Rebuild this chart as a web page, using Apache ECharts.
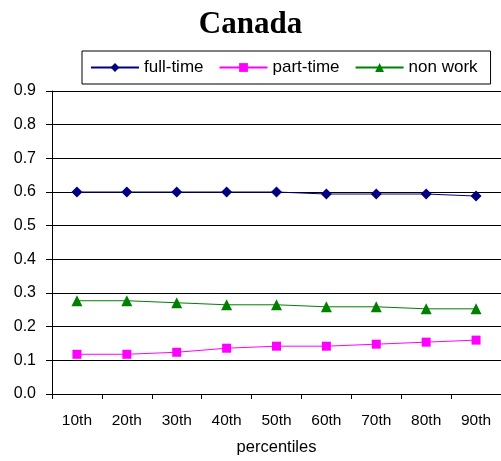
<!DOCTYPE html>
<html>
<head>
<meta charset="utf-8">
<script src="https://cdn.jsdelivr.net/npm/echarts@6/dist/echarts.min.js"></script>
<style>
  html, body { margin: 0; padding: 0; background: #fff; }
  #chart { width: 501px; height: 461px; }
</style>
</head>
<body>
<div id="chart"></div>
<script>
// 数据
var categories = ['10th', '20th', '30th', '40th', '50th', '60th', '70th', '80th', '90th'];
var fullTime = [0.600, 0.600, 0.600, 0.600, 0.600, 0.594, 0.594, 0.594, 0.588];
var partTime = [0.118, 0.118, 0.124, 0.136, 0.142, 0.142, 0.148, 0.154, 0.160];
var nonWork = [0.277, 0.277, 0.271, 0.265, 0.265, 0.259, 0.259, 0.253, 0.253];
var yTicks = [0, 0.1, 0.2, 0.3, 0.4, 0.5, 0.6, 0.7, 0.8, 0.9];

var font = 'Liberation Sans, Arial, sans-serif';

var option = {
    animation: false,
    backgroundColor: '#fff',
    title: {
        text: 'Canada',
        left: 'center',
        top: 4,
        textStyle: {
            fontFamily: 'Liberation Serif, Times New Roman, serif',
            fontSize: 31,
            fontWeight: 'bold',
            color: '#000'
        }
    },
    legend: {
        left: 82,
        top: 51,
        padding: [8, 13, 8, 8],
        itemGap: 15,
        itemWidth: 48,
        itemHeight: 11,
        borderColor: '#000',
        borderWidth: 1,
        textStyle: { fontFamily: font, fontSize: 17, color: '#000', padding: [0, 0, 0, 0] },
        data: ['full-time', 'part-time', 'non work']
    },
    grid: {
        left: 52,
        top: 91,
        width: 450,
        height: 304,
        containLabel: false
    },
    xAxis: {
        type: 'category',
        data: categories,
        boundaryGap: true,
        name: 'percentiles',
        nameLocation: 'middle',
        nameGap: 45,
        nameTextStyle: { fontFamily: font, fontSize: 16.5, color: '#000' },
        axisLine: { lineStyle: { color: '#000', width: 1 } },
        axisTick: { show: true, length: 5, lineStyle: { color: '#000' } },
        axisLabel: { fontFamily: font, fontSize: 15.5, color: '#000', margin: 19 },
        splitLine: { show: false }
    },
    yAxis: {
        type: 'value',
        min: 0,
        max: 0.9,
        interval: 0.1,
        axisLine: { show: true, lineStyle: { color: '#000', width: 1 } },
        axisTick: { show: true, length: 6, lineStyle: { color: '#000' } },
        axisLabel: {
            fontFamily: font, fontSize: 16, color: '#000', margin: 16,
            formatter: function (v) { return v.toFixed(1); }
        },
        splitLine: { show: true, lineStyle: { color: '#000', width: 1 } }
    },
    series: [{
        name: 'full-time',
        type: 'line',
        data: fullTime,
        symbol: 'diamond',
        symbolSize: 11,
        color: '#000080',
        lineStyle: { width: 1, color: '#000080' },
        itemStyle: { color: '#000080' }
    }, {
        name: 'part-time',
        type: 'line',
        data: partTime,
        symbol: 'rect',
        symbolSize: 9,
        color: '#ff00ff',
        lineStyle: { width: 1, color: '#ff00ff' },
        itemStyle: { color: '#ff00ff' }
    }, {
        name: 'non work',
        type: 'line',
        data: nonWork,
        symbol: 'triangle',
        symbolSize: 11,
        color: '#008000',
        lineStyle: { width: 1, color: '#008000' },
        itemStyle: { color: '#008000' }
    }]
};

var myChart = echarts.init(document.getElementById('chart'), null, { renderer: 'canvas' });
myChart.setOption(option);
</script>
</body>
</html>
